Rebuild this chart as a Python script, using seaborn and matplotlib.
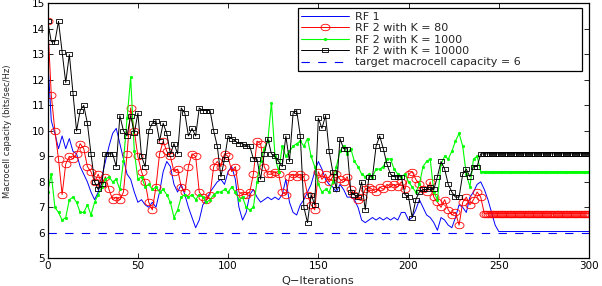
import numpy as np
import matplotlib
matplotlib.use("Agg")
import matplotlib.pyplot as plt
import seaborn as sns

# Q-iterations: RF 1 read every 2 iterations; RF 2 curves read every 2
# iterations up to 240, then every iteration on the flat converged part
iter_rf1 = np.arange(0, 301, 2)
iter_rf2 = np.concatenate([np.arange(0, 241, 2), np.arange(242, 301)])

rf1 = [12.9, 10.4, 9.9, 9.3, 9.8, 9.3, 9.7, 9.2, 9.1, 8.6,
       8.3, 8.0, 7.6, 7.3, 7.6, 8.2, 8.8, 9.4, 9.9, 10.1,
       9.5, 8.9, 8.3, 8.1, 7.6, 7.2, 7.3, 7.1, 7.0, 7.2,
       7.0, 7.6, 8.4, 8.8, 8.6, 7.9, 7.6, 7.9, 7.5, 7.0,
       6.6, 6.2, 6.5, 7.1, 7.3, 7.6, 7.8, 8.0, 8.1, 7.9,
       8.4, 8.6, 8.1, 7.0, 6.5, 6.8, 7.5, 7.7, 7.4, 7.2,
       7.3, 7.4, 7.3, 7.4, 7.3, 7.5, 8.1, 7.2, 6.8, 6.7,
       7.1, 7.3, 7.6, 7.9, 8.4, 8.8, 8.5, 8.1, 7.9, 7.8,
       7.6, 7.9, 7.7, 7.4, 7.4, 7.3, 7.0, 6.5, 6.4, 6.5,
       6.6, 6.5, 6.6, 6.5, 6.6, 6.5, 6.6, 6.5, 6.8, 6.8,
       6.5, 6.6, 6.9, 7.3, 7.0, 6.7, 6.6, 6.4, 6.1, 6.6,
       6.5, 6.3, 6.2, 6.6, 7.1, 7.0, 6.8, 7.4, 7.6, 7.9,
       8.0, 7.7, 7.3, 6.8, 6.3, 6.05, 6.05, 6.05, 6.05, 6.05,
       6.05, 6.05, 6.05, 6.05, 6.05, 6.05, 6.05, 6.05, 6.05, 6.05,
       6.05, 6.05, 6.05, 6.05, 6.05, 6.05, 6.05, 6.05, 6.05, 6.05,
       6.05]

k80_search = [14.3, 11.4, 10.0, 8.9, 7.5, 8.7, 9.0, 8.9, 9.1, 9.5,
              9.3, 8.6, 8.4, 8.0, 8.3, 7.9, 8.2, 7.7, 7.3, 7.4,
              7.3, 7.6, 9.1, 10.9, 10.0, 9.0, 8.4, 8.0, 7.2, 6.9,
              7.8, 9.1, 9.6, 9.2, 9.0, 8.4, 8.5, 7.8, 7.6, 8.6,
              9.1, 9.0, 7.6, 7.4, 7.3, 7.5, 8.6, 8.8, 8.6, 9.1,
              9.0, 8.4, 8.6, 7.6, 7.5, 7.5, 7.6, 8.3, 9.6, 9.5,
              8.6, 8.3, 8.3, 8.4, 8.3, 7.6, 7.5, 8.2, 8.3, 8.2,
              8.3, 8.2, 7.5, 7.1, 6.9, 8.4, 8.1, 8.3, 8.0, 8.2,
              8.3, 8.1, 8.0, 8.2, 7.7, 7.5, 7.3, 7.4, 7.7, 7.8,
              7.7, 7.6, 7.8, 7.7, 7.9, 7.8, 7.9, 7.8, 8.0, 7.7,
              8.3, 8.4, 8.1, 7.9, 7.7, 7.6, 8.0, 7.4, 7.2, 7.0,
              7.3, 6.9, 6.7, 6.8, 6.3, 7.2, 7.4, 7.1, 7.3, 7.6,
              7.4]
k80_flat = [6.75, 6.75, 6.75, 6.75, 6.75, 6.75, 6.75, 6.75, 6.75, 6.75,
            6.75, 6.75, 6.75, 6.75, 6.75, 6.75, 6.75, 6.75, 6.75, 6.75,
            6.75, 6.75, 6.75, 6.75, 6.75, 6.75, 6.75, 6.75, 6.75, 6.75,
            6.75, 6.75, 6.75, 6.75, 6.75, 6.75, 6.75, 6.75, 6.75, 6.75,
            6.75, 6.75, 6.75, 6.75, 6.75, 6.75, 6.75, 6.75, 6.75, 6.75,
            6.75, 6.75, 6.75, 6.75, 6.75, 6.75, 6.75, 6.75, 6.75]

k1000_search = [7.6, 8.3, 7.0, 6.8, 6.5, 6.6, 7.3, 7.4, 7.2, 6.8,
                6.8, 7.1, 6.7, 7.2, 7.5, 7.8, 8.1, 8.2, 8.0, 8.1,
                7.7, 8.8, 10.5, 12.1, 9.2, 8.1, 8.2, 7.8, 7.9, 7.7,
                7.8, 7.6, 7.7, 7.5, 7.2, 6.6, 6.9, 7.4, 7.5, 7.4,
                7.5, 7.3, 7.5, 7.4, 7.2, 7.3, 7.5, 7.6, 7.6, 7.7,
                7.6, 7.8, 7.6, 7.3, 7.4, 7.0, 6.9, 7.0, 8.0, 8.8,
                9.3, 9.6, 11.1, 9.0, 8.4, 9.4, 9.0, 9.2, 9.4, 9.5,
                9.6, 9.4, 9.7, 9.0, 8.6, 7.9, 7.6, 7.7, 7.6, 8.0,
                8.6, 9.2, 9.4, 9.1, 9.3, 8.8, 8.6, 8.3, 8.2, 8.3,
                8.2, 8.5, 8.5, 8.6, 8.9, 8.9, 8.5, 8.3, 8.2, 8.3,
                8.0, 7.8, 7.6, 7.9, 8.6, 8.8, 8.9, 7.6, 7.3, 8.7,
                9.0, 8.9, 9.2, 9.6, 9.9, 9.4, 8.3, 7.8, 8.9, 9.0,
                8.4]
k1000_flat = [8.4, 8.4, 8.4, 8.4, 8.4, 8.4, 8.4, 8.4, 8.4, 8.4,
              8.4, 8.4, 8.4, 8.4, 8.4, 8.4, 8.4, 8.4, 8.4, 8.4,
              8.4, 8.4, 8.4, 8.4, 8.4, 8.4, 8.4, 8.4, 8.4, 8.4,
              8.4, 8.4, 8.4, 8.4, 8.4, 8.4, 8.4, 8.4, 8.4, 8.4,
              8.4, 8.4, 8.4, 8.4, 8.4, 8.4, 8.4, 8.4, 8.4, 8.4,
              8.4, 8.4, 8.4, 8.4, 8.4, 8.4, 8.4, 8.4, 8.4]

k10000_search = [14.3, 13.5, 13.5, 14.3, 13.1, 11.9, 13.0, 11.5, 10.0, 10.8,
                 11.0, 10.3, 9.1, 8.0, 7.7, 7.9, 9.1, 9.1, 9.1, 8.6,
                 10.6, 10.0, 9.8, 10.6, 9.9, 10.7, 9.0, 8.6, 10.0, 10.3,
                 10.4, 9.6, 10.3, 9.9, 9.1, 9.5, 9.1, 10.9, 10.7, 9.8,
                 10.1, 9.8, 10.9, 10.8, 10.8, 10.8, 10.0, 9.4, 8.2, 8.9,
                 9.8, 9.7, 9.6, 9.5, 9.5, 9.4, 9.4, 8.9, 8.9, 8.1,
                 9.1, 9.7, 9.1, 9.0, 8.8, 8.6, 9.8, 8.8, 10.7, 10.8,
                 9.8, 7.0, 6.4, 7.5, 7.1, 10.5, 10.1, 10.6, 9.2, 8.4,
                 7.7, 9.7, 9.3, 9.3, 7.6, 7.5, 7.4, 8.0, 6.9, 8.2,
                 8.2, 9.4, 9.8, 9.3, 8.7, 8.3, 8.2, 8.2, 8.2, 7.5,
                 7.4, 6.6, 7.3, 7.6, 7.7, 7.7, 7.8, 7.7, 8.2, 8.8,
                 8.5, 7.9, 7.6, 7.4, 7.4, 8.3, 8.5, 8.2, 8.6, 8.6,
                 9.1]
k10000_flat = [9.1, 9.1, 9.1, 9.1, 9.1, 9.1, 9.1, 9.1, 9.1, 9.1,
               9.1, 9.1, 9.1, 9.1, 9.1, 9.1, 9.1, 9.1, 9.1, 9.1,
               9.1, 9.1, 9.1, 9.1, 9.1, 9.1, 9.1, 9.1, 9.1, 9.1,
               9.1, 9.1, 9.1, 9.1, 9.1, 9.1, 9.1, 9.1, 9.1, 9.1,
               9.1, 9.1, 9.1, 9.1, 9.1, 9.1, 9.1, 9.1, 9.1, 9.1,
               9.1, 9.1, 9.1, 9.1, 9.1, 9.1, 9.1, 9.1, 9.1]

target_x = [0, 300]
target_y = [6, 6]

labels = ["RF 1", "RF 2 with K = 80", "RF 2 with K = 1000",
          "RF 2 with K = 10000", "target macrocell capacity = 6"]

rf2_k80 = k80_search + k80_flat
rf2_k1000 = k1000_search + k1000_flat
rf2_k10000 = k10000_search + k10000_flat

sns.set_style("ticks")
plt.rcParams["font.family"] = ["DejaVu Sans"]
plt.rcParams["lines.scale_dashes"] = False
plt.rcParams["axes.edgecolor"] = "black"
plt.rcParams["xtick.color"] = "black"
plt.rcParams["ytick.color"] = "black"

# marker shapes (image was stretched sideways, so markers are wide)
theta = np.linspace(0, 2 * np.pi, 41)
ellipse = np.column_stack([np.cos(theta), 0.72 * np.sin(theta)])
rect = [(-1, -0.7), (1, -0.7), (1, 0.7), (-1, 0.7), (-1, -0.7)]

fig = plt.figure(figsize=(6.02, 2.86), dpi=100)
ax = fig.add_axes([0.0792, 0.0969, 0.8992, 0.8909])

sns.lineplot(x=iter_rf1, y=rf1, ax=ax, color="blue", lw=0.7,
             estimator=None, label=labels[0])
sns.lineplot(x=iter_rf2, y=rf2_k80, ax=ax, color="red", lw=0.7,
             marker=ellipse, markersize=6.5, mfc="none", mec="red",
             mew=0.6, estimator=None, label=labels[1])
sns.lineplot(x=iter_rf2, y=rf2_k1000, ax=ax, color="#00ff00", lw=0.8,
             marker="o", markersize=2, mfc="#00ff00", mec="#00ff00",
             mew=0.3, estimator=None, label=labels[2])
sns.lineplot(x=iter_rf2, y=rf2_k10000, ax=ax, color="black", lw=0.7,
             marker=rect, markersize=4.9, mfc="none", mec="black",
             mew=0.6, estimator=None, label=labels[3])
sns.lineplot(x=target_x, y=target_y, ax=ax, color="blue", lw=0.8,
             estimator=None, label=labels[4])
target_line = ax.get_lines()[-1]
target_line.set_color("#0000ff")
target_line.set_linestyle((0, (6, 6)))

ax.set_xlim(0, 300)
ax.set_ylim(5, 15)
ax.set_xticks(range(0, 301, 50))
ax.set_yticks(range(5, 16))
ax.tick_params(direction="in", length=3.5, width=0.6, labelsize=7.5,
               top=True, right=True, pad=1.8)
for sp in ax.spines.values():
    sp.set_visible(True)
    sp.set_linewidth(0.9)
    sp.set_color("black")

ax.set_xlabel("Q\u2212Iterations", fontsize=8.2, va="bottom")
ax.xaxis.set_label_coords(0.499, -0.1085)
ax.set_ylabel("Macrocell capacity (bits/sec/Hz)", fontsize=6)
ax.yaxis.set_label_coords(-0.066, 0.5)

handles = ax.get_lines()
leg = ax.legend(handles=handles, labels=labels, loc="upper left",
                bbox_to_anchor=(0.4624, 0.732, 0.5247, 0.249),
                mode="expand", borderaxespad=0, fontsize=8,
                handlelength=4.3, handletextpad=0.5, labelspacing=0.13,
                borderpad=0.3, frameon=True, fancybox=False, shadow=False,
                numpoints=1)
leg.get_frame().set_edgecolor("black")
leg.get_frame().set_linewidth(0.9)
leg.get_frame().set_alpha(1)

fig.savefig("out.png", dpi=100)
